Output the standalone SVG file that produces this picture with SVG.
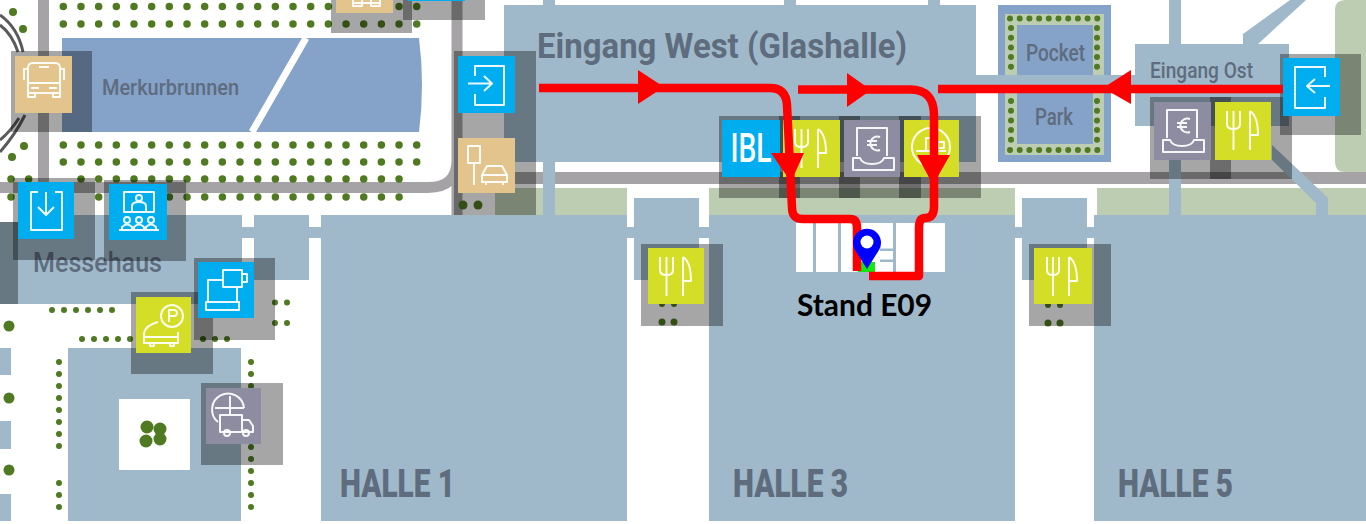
<svg xmlns="http://www.w3.org/2000/svg" xmlns:xlink="http://www.w3.org/1999/xlink" width="1366" height="524" viewBox="0 0 1366 524">
<style>
.hall{fill:#9fb9ca}
.pond{fill:#85a2c9}
.green{fill:#bccdb2}
.road{fill:none;stroke:#a5a3a5}
.dots{fill:none;stroke:#4f7a21;stroke-width:7.500;stroke-linecap:round;stroke-dasharray:0 17.670}
.dotsb{fill:none;stroke:#4f7a21;stroke-width:6;stroke-linecap:round;stroke-dasharray:0 12}
.dotsc{fill:none;stroke:#4f7a21;stroke-width:6;stroke-linecap:round;stroke-dasharray:0 9.700}
.tree{fill:#4f7a21}
.lbl{font-family:"Roboto","Liberation Sans",sans-serif;font-weight:500;fill:#5e6c7d}
.big{font-family:"Roboto","Liberation Sans",sans-serif;font-weight:900;fill:#5e6c7d}
.sh{fill:#000;fill-opacity:.35}
.ic{fill:none;stroke:#fff;stroke-width:2;stroke-opacity:.92;stroke-linejoin:round}
.blue{fill:#00aeef}.tan{fill:#e4c48d}.yel{fill:#d5de27}.pur{fill:#8e8ca0}
.route{fill:none;stroke:#f00;stroke-width:8.500;stroke-linejoin:round}
.head{fill:#f00}
</style>
<defs>
<g id="fork"><path d="M12 9V22Q12 27 18.500 27Q25 27 25 22V9M18.500 9V48M35 9V48M35 9Q43 14 43 33H35"/></g>
<g id="euro"><path d="M13 36V8H43V36M9 38H16Q18 44 28 44Q38 44 40 38H50V50H9ZM36 17A7 7 0 1 0 36 30M23 21H33M23 25H33"/></g>
</defs>
<rect width="1366" height="524" fill="#fff"/>

<!-- ground -->
<rect class="green" x="495" y="188" width="48" height="27"/>
<rect class="green" x="555" y="188" width="72" height="27"/>
<rect class="green" x="709" y="188" width="306" height="27"/>
<rect class="green" x="1097" y="188" width="269" height="27"/>
<path class="green" d="M1366 0H1345Q1335 0 1335 10V162Q1335 172 1345 172H1366Z"/>

<!-- roads -->
<path class="road" stroke-width="11" d="M0 187.500H428Q457 187.500 457 160V0M457 160V215"/>
<path class="road" stroke-width="12" d="M458 178H1366"/>
<path class="road" stroke-width="11" d="M43.500 0V183"/>

<!-- rail arcs -->
<path d="M0 15Q18 28 23 52M0 25Q12 34 18 52M25 115Q15 135 0 152M19 118Q10 132 0 140" fill="none" stroke="#5a5a5c" stroke-width="3"/>

<!-- halls -->
<g class="hall">
<rect x="504" y="5" width="472" height="157"/>
<rect x="543" y="0" width="12" height="5"/><rect x="784" y="0" width="12" height="5"/><rect x="928" y="0" width="12" height="5"/>
<rect x="543" y="162" width="12" height="53"/>
<rect x="976" y="75" width="159" height="18"/>
<rect x="1135" y="44" width="154" height="82"/>
<rect x="1169" y="0" width="12" height="44"/>
<rect x="1169" y="126" width="12" height="89"/>
<path d="M1243 44V34L1290 0H1306L1258 44Z"/>
<path d="M1272 145L1328 198V215H1316V203L1272 160Z"/>
<rect x="321" y="215" width="306" height="306"/>
<rect x="709" y="215" width="306" height="306"/>
<rect x="1094" y="215" width="272" height="306"/>
<rect x="634" y="198" width="65" height="82"/>
<rect x="1022" y="198" width="65" height="82"/>
<rect x="627" y="227" width="82" height="11"/>
<rect x="1015" y="227" width="79" height="11"/>
<rect x="18" y="215" width="224" height="89"/>
<rect x="0" y="222" width="18" height="82"/>
<rect x="254" y="215" width="55" height="65"/>
<rect x="242" y="227" width="79" height="11"/>
<rect x="68" y="348" width="173" height="173"/>
<rect x="0" y="348" width="11" height="27"/><rect x="0" y="421" width="11" height="28"/><rect x="0" y="494" width="11" height="27"/>
</g>
<rect x="119" y="399" width="71" height="71" fill="#fff"/>

<!-- ponds -->
<g id="merkurbrunnen">
<path class="pond" d="M62 38H419Q425 85 419 132H62Z"/>
<path d="M306 38L252 132" stroke="#fff" stroke-width="7" fill="none"/>
</g>
<g id="pocket-park">
<rect class="pond" x="998" y="5" width="113" height="70"/>
<rect class="pond" x="998" y="93" width="113" height="69"/>
<path class="green" d="M1005 14H1104V75H1093V25H1017V75H1005ZM1005 155H1104V93H1093V144H1017V93H1005Z"/>
<path class="dotsc" d="M1010 18.500H1104M1010 150H1104M1011 28V72M1097 28V72M1011 101V144M1097 101V144"/>
</g>
<rect class="hall" x="998" y="75" width="113" height="18"/>

<!-- planting -->
<g id="planting">
<path class="dots" d="M63.300 6.500H420M63.300 24H420M63.300 145H420M63.300 162H420M81 179H403M98.700 197H403M11 179H31M11 197H31"/>
<g class="tree"><circle cx="13" cy="12" r="4"/><circle cx="23" cy="29" r="4"/><circle cx="24" cy="146" r="4"/><circle cx="12" cy="157" r="4"/></g>
<path class="dotsb" d="M52 310H116M82 339H133M203 339H230M275 302.500H290M275 323H290M59 362V450M59 483V510M251 362V389M251 447V510"/>
<g class="tree">
<circle cx="9" cy="326" r="5.500"/><circle cx="9" cy="398" r="5.500"/><circle cx="9" cy="470" r="5.500"/>
<circle cx="147" cy="427" r="6.500"/><circle cx="160" cy="429" r="6.500"/><circle cx="146" cy="441" r="6.500"/><circle cx="160" cy="439" r="6.500"/>
<circle cx="463" cy="205" r="4.500"/><circle cx="478" cy="205" r="4.500"/>
<circle cx="662" cy="322" r="3.500"/><circle cx="674" cy="322" r="3.500"/><circle cx="1048" cy="323" r="3.500"/><circle cx="1060" cy="323" r="3.500"/>
<circle cx="662" cy="304" r="3"/><circle cx="674" cy="304" r="3"/><circle cx="1048" cy="305" r="3"/><circle cx="1060" cy="305" r="3"/>
</g>
</g>

<!-- labels of the map -->
<text class="lbl" x="102" y="95" font-size="22" textLength="137" lengthAdjust="spacingAndGlyphs">Merkurbrunnen</text>
<text class="big" style="font-weight:700" x="537" y="58" font-size="35" textLength="370" lengthAdjust="spacingAndGlyphs">Eingang West (Glashalle)</text>
<text class="lbl" x="1026" y="61" font-size="23" textLength="59" lengthAdjust="spacingAndGlyphs">Pocket</text>
<text class="lbl" x="1035" y="125" font-size="23" textLength="38" lengthAdjust="spacingAndGlyphs">Park</text>
<text class="lbl" x="1150" y="78" font-size="22" textLength="103" lengthAdjust="spacingAndGlyphs">Eingang Ost</text>
<text class="lbl" x="33" y="272" font-size="27" textLength="129" lengthAdjust="spacingAndGlyphs">Messehaus</text>
<text class="big" x="340" y="497" font-size="39" textLength="115" lengthAdjust="spacingAndGlyphs">HALLE 1</text>
<text class="big" x="733" y="497" font-size="39" textLength="115" lengthAdjust="spacingAndGlyphs">HALLE 3</text>
<text class="big" x="1118" y="497" font-size="39" textLength="115" lengthAdjust="spacingAndGlyphs">HALLE 5</text>

<!-- stand block -->
<g id="stands">
<rect x="796" y="223" width="149" height="49" fill="#fff"/>
<g class="hall"><rect x="813" y="223" width="3" height="49"/><rect x="838" y="223" width="3" height="49"/><rect x="893" y="223" width="3" height="49"/><rect x="880" y="248.500" width="13" height="2.500"/><rect x="880" y="259.500" width="13" height="2.500"/></g>
</g>

<!-- icon shadows -->
<g id="shadows" class="sh">
<rect x="-63" y="222" width="81" height="82"/>
<rect x="11" y="51" width="81" height="81"/><rect x="331" y="-48" width="81" height="81"/><rect x="403" y="-61" width="82" height="81"/>
<rect x="454" y="51" width="82" height="83"/><rect x="454" y="134" width="82" height="81"/>
<rect x="13" y="178" width="82" height="82"/><rect x="104" y="180" width="82" height="81"/>
<rect x="194" y="258" width="81" height="82"/><rect x="131" y="292" width="82" height="82"/><rect x="201" y="383" width="82" height="82"/>
<rect x="719" y="116" width="81" height="82"/><rect x="779" y="116" width="81" height="82"/><rect x="839" y="116" width="82" height="82"/><rect x="899" y="116" width="82" height="82"/>
<rect x="641" y="244" width="82" height="82"/><rect x="1029" y="244" width="82" height="82"/>
<rect x="1150" y="97" width="81" height="82"/><rect x="1210" y="97" width="82" height="82"/><rect x="1280" y="54" width="81" height="81"/>
</g>

<!-- icons -->
<g id="icon-top-car" transform="translate(336,-44)"><rect class="tan" width="57" height="57"/><path class="ic" d="M17 44V50H26V44M35 44V50H44V44M17 47H44"/></g>
<rect id="icon-top-blue" class="blue" x="408" y="-56" width="57" height="57"/>
<g id="icon-bus" transform="translate(15,56)"><rect class="tan" width="57" height="57"/><path class="ic" d="M13 12Q13 7 18 7H40Q45 7 45 12V37H13ZM13 27H45M24 11H34M13 13H9V24M45 13H49V24M13 37V41H20V37M38 37V41H45V37M16 32H24M34 32H42"/></g>
<g id="icon-entry-west" transform="translate(458,56)"><rect class="blue" width="57" height="57"/><path class="ic" d="M17 20V10H46V49H17V38M10 27.500H33M26 20L34 27.500L26 35"/></g>
<g id="icon-parking-car" transform="translate(458,138)"><rect class="tan" width="57" height="55"/><path class="ic" d="M10 8H22V25H10ZM16 25V47M24 37L29 28H44L49 37V44H24ZM24 37H49M28 44V47M45 44V47"/></g>
<g id="icon-door-down" transform="translate(18,182)"><rect class="blue" width="56" height="57"/><path class="ic" d="M20 10H13V48H44V10H37M28 10V32M20 25L28 33L36 25"/></g>
<g id="icon-meeting" transform="translate(109,184)"><rect class="blue" width="58" height="56"/><path class="ic" d="M15 8H45V28H15ZM23 28V22Q23 18 30 18Q37 18 37 22V28M10 46H50M13 46V43Q18 38 23 43V46M25 46V43Q30 38 35 43V46M37 46V43Q42 38 47 43V46"/><circle class="ic" cx="30" cy="14" r="3"/><circle class="ic" cx="18" cy="36" r="3"/><circle class="ic" cx="30" cy="36" r="3"/><circle class="ic" cx="42" cy="36" r="3"/></g>
<g id="icon-laptop-cup" transform="translate(198,262)"><rect class="blue" width="56" height="56"/><path class="ic" d="M25 18H10V40H39V26M8 48V40H41V48Z"/><path class="ic" d="M25 8H44V25H25ZM44 12H49V20H44" fill="#7fd6f7"/></g>
<g id="icon-parking" transform="translate(136,297)"><rect class="yel" width="55" height="56"/><circle class="ic" cx="36" cy="19" r="11"/><path class="ic" d="M33 25V13H38Q41 13 41 16Q41 19 38 19H33M8 36Q10 28 22 25M8 36V46H42V35M8 40H42M14 46V49H18V46M34 46V49H38V46"/></g>
<g id="icon-truck" transform="translate(206,388)"><rect class="pur" width="55" height="56"/><path class="ic" d="M12 34A16 16 0 1 1 38 20M24 8V26M9 20H38M14 27H36V44H14ZM36 32H43L47 38V44H36"/><circle class="ic" cx="21" cy="45" r="3"/><circle class="ic" cx="40" cy="45" r="3"/></g>
<g id="icon-ibl" transform="translate(722,120)"><rect class="blue" width="58" height="57"/><text x="8.500" y="42" font-family="Roboto,'Liberation Sans',sans-serif" font-weight="500" font-size="40" fill="#fff" textLength="41" lengthAdjust="spacingAndGlyphs">IBL</text></g>
<g id="icon-food-1" transform="translate(783,120)"><rect class="yel" width="57" height="57"/><use class="ic" xlink:href="#fork" href="#fork"/></g>
<g id="icon-cash-1" transform="translate(844,120)"><rect class="pur" width="56" height="57"/><use class="ic" xlink:href="#euro" href="#euro"/></g>
<g id="icon-wc" transform="translate(904,120)"><rect class="yel" width="55" height="57"/><circle class="ic" cx="27" cy="27" r="19"/><path class="ic" d="M12 31H42M22 31V18H28V31M34 22H40V28H34Z"/></g>
<g id="icon-food-2" transform="translate(648,248)"><rect class="yel" width="56" height="56"/><use class="ic" xlink:href="#fork" href="#fork"/></g>
<g id="icon-cash-2" transform="translate(1154,102)"><rect class="pur" width="57" height="58"/><use class="ic" xlink:href="#euro" href="#euro"/></g>
<g id="icon-food-3" transform="translate(1034,248)"><rect class="yel" width="58" height="56"/><path class="ic" d="M13 9V22Q13 27 19 27Q25 27 25 22V9M19 9V48" stroke-width="4"/><path class="ic" d="M35 9V48M35 9Q43 14 43 33H35"/></g>
<g id="icon-food-4" transform="translate(1215,102)"><rect class="yel" width="56" height="58"/><use class="ic" xlink:href="#fork" href="#fork"/></g>
<g id="icon-entry-east" transform="translate(1283,58)"><rect class="blue" width="57" height="58"/><path class="ic" d="M42 19V9H12V50H42V39M47 28H25M32 21L24 28L32 35"/></g>

<!-- booth -->
<rect id="booth" x="858" y="262" width="17" height="10" fill="#14e614"/>

<!-- connectors -->
<g id="connectors">
<path class="route" d="M539 88H770Q786 88 787 105L792 208Q792 219 803 219H850Q857 219 857 228V271"/>
<path class="route" d="M798 89.500H910Q934 89.500 934 115V207Q934 218 925 218Q919 218 919 228V276H869"/>
<path class="route" d="M1283 89H938"/>
<polygon class="head" points="638,70 664,87 638,104"/>
<polygon class="head" points="847,73 871,90 847,107"/>
<polygon class="head" points="1131,70 1103,88 1131,104"/>
<polygon class="head" points="771,153 804,153 791,182"/>
<polygon class="head" points="917,155 950,155 933,185"/>
</g>

<!-- pin -->
<g id="pin">
<path d="M867 269L855 250A14 14 0 1 1 879 250Z" fill="#00f"/>
<circle cx="867" cy="242" r="6.500" fill="#fff"/>
</g>

<text id="stand-label" x="797" y="316" font-family="Lato,'Liberation Sans',sans-serif" font-weight="700" font-size="31" fill="#000" textLength="135" lengthAdjust="spacingAndGlyphs">Stand E09</text>
</svg>
